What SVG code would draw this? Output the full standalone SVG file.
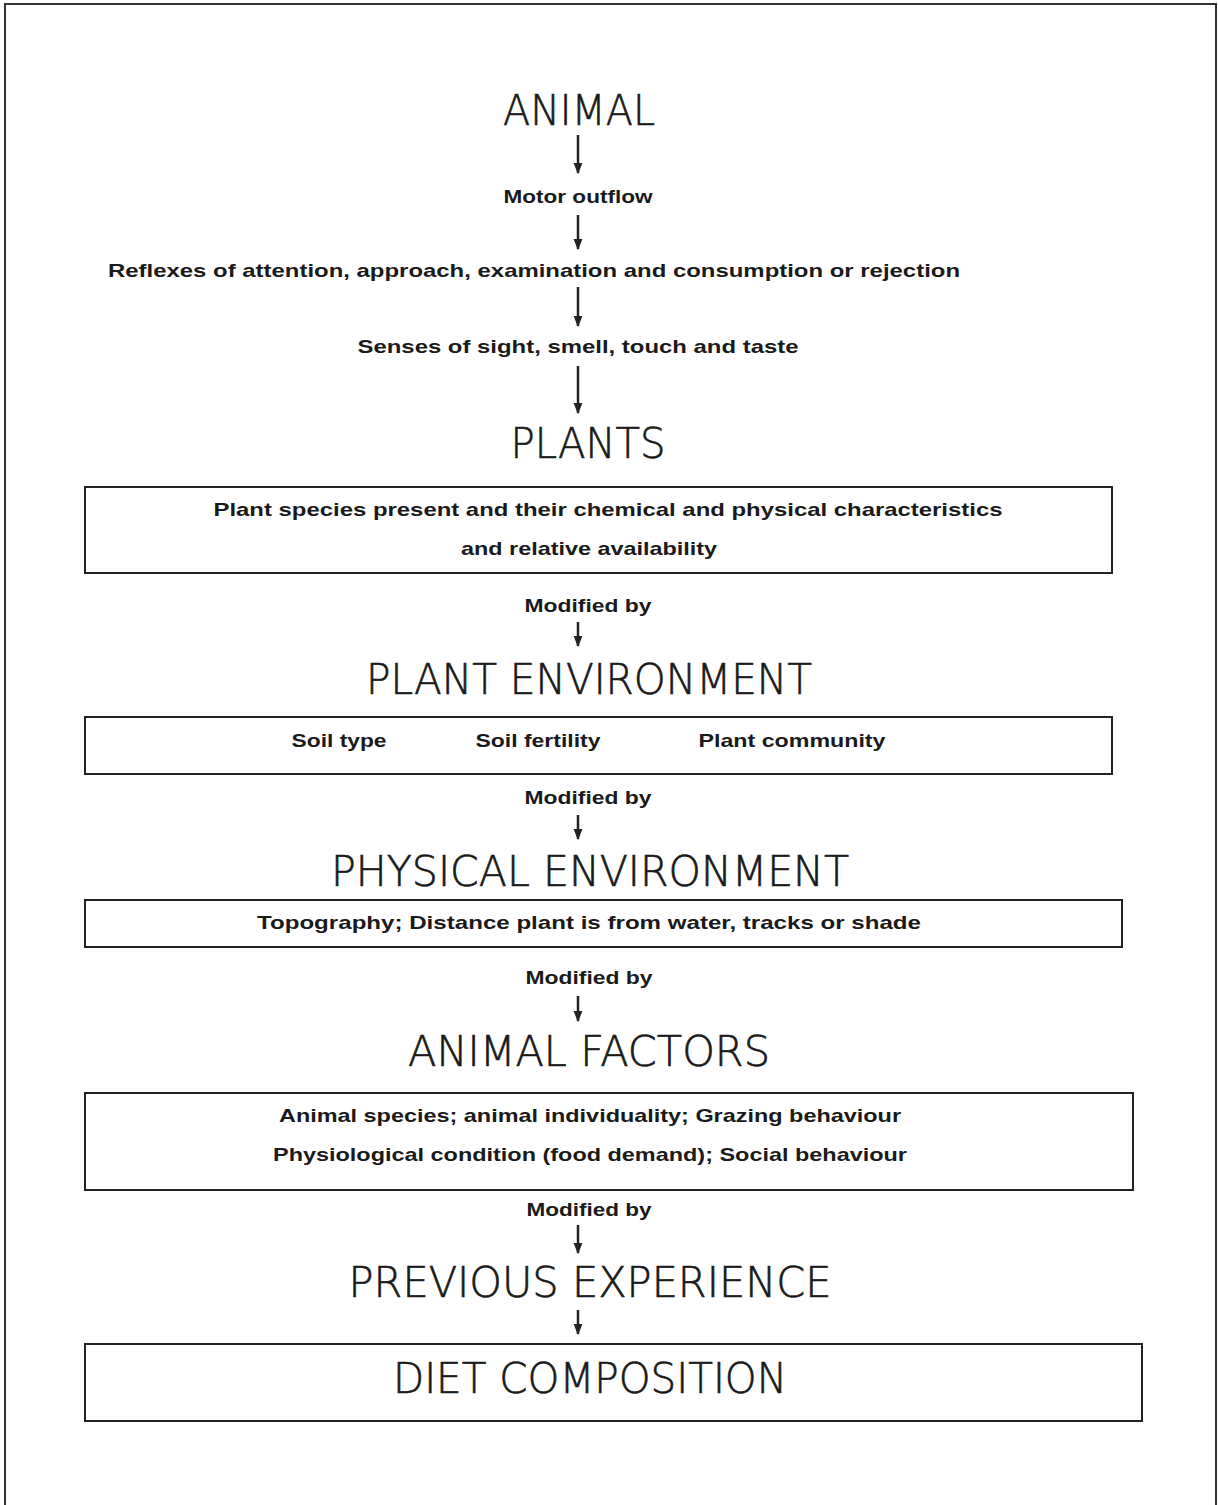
<svg xmlns="http://www.w3.org/2000/svg" width="1218" height="1505" viewBox="0 0 1218 1505">
<defs>
<style>
.h{font-family:"DejaVu Sans","Liberation Sans",sans-serif;font-weight:200;font-size:42px;fill:#1a1a1a;stroke:#1a1a1a;stroke-width:0.6;text-anchor:middle}
.s{font-family:"Liberation Sans",Arial,sans-serif;font-size:19px;font-weight:bold;fill:#1a1a1a;text-anchor:middle}
.box{fill:none;stroke:#222;stroke-width:2}
.c line{stroke:#222;stroke-width:2.5;marker-end:url(#ah)}
</style>
<marker id="ah" viewBox="0 0 10 10" refX="9" refY="5" markerWidth="4.5" markerHeight="4.5" markerUnits="strokeWidth" orient="auto">
<path d="M0,1 L10,5 L0,9 z" fill="#222"/>
</marker>
</defs>
<rect width="1218" height="1505" fill="#fff"/>
<path d="M5,1505 L5,4 L1216,4 L1216,1505" fill="none" stroke="#333" stroke-width="2"/>

<g id="animal"><text class="h" x="579" y="125" textLength="152" lengthAdjust="spacingAndGlyphs">ANIMAL</text></g>
<g id="motor"><text class="s" x="578" y="203" textLength="149" lengthAdjust="spacingAndGlyphs">Motor outflow</text></g>
<g id="reflexes"><text class="s" x="534" y="277" textLength="852" lengthAdjust="spacingAndGlyphs">Reflexes of attention, approach, examination and consumption  or rejection</text></g>
<g id="senses"><text class="s" x="578" y="353" textLength="441" lengthAdjust="spacingAndGlyphs">Senses of sight, smell, touch and taste</text></g>
<g id="plants"><text class="h" x="588" y="458" textLength="155" lengthAdjust="spacingAndGlyphs">PLANTS</text></g>
<g id="plants-box">
<rect class="box" x="85" y="487" width="1027" height="86"/>
<text class="s" x="608" y="516" textLength="789" lengthAdjust="spacingAndGlyphs">Plant species present and their chemical and physical  characteristics</text>
<text class="s" x="589" y="555" textLength="256" lengthAdjust="spacingAndGlyphs">and relative availability</text>
</g>
<g id="mod1"><text class="s" x="588" y="612" textLength="127" lengthAdjust="spacingAndGlyphs">Modified by</text></g>
<g id="plant-env"><text class="h" x="589" y="694" textLength="446" lengthAdjust="spacingAndGlyphs">PLANT ENVIRONMENT</text></g>
<g id="plant-env-box">
<rect class="box" x="85" y="717" width="1027" height="57"/>
<text class="s" x="339" y="747" textLength="95" lengthAdjust="spacingAndGlyphs">Soil type</text>
<text class="s" x="538" y="747" textLength="125" lengthAdjust="spacingAndGlyphs">Soil fertility</text>
<text class="s" x="792" y="747" textLength="187" lengthAdjust="spacingAndGlyphs">Plant community</text>
</g>
<g id="mod2"><text class="s" x="588" y="804" textLength="127" lengthAdjust="spacingAndGlyphs">Modified by</text></g>
<g id="phys-env"><text class="h" x="590" y="886" textLength="518" lengthAdjust="spacingAndGlyphs">PHYSICAL ENVIRONMENT</text></g>
<g id="phys-env-box">
<rect class="box" x="85" y="900" width="1037" height="47"/>
<text class="s" x="589" y="929" textLength="664" lengthAdjust="spacingAndGlyphs">Topography; Distance plant is from water, tracks or shade</text>
</g>
<g id="mod3"><text class="s" x="589" y="984" textLength="127" lengthAdjust="spacingAndGlyphs">Modified by</text></g>
<g id="animal-factors"><text class="h" x="589" y="1066" textLength="362" lengthAdjust="spacingAndGlyphs">ANIMAL FACTORS</text></g>
<g id="animal-factors-box">
<rect class="box" x="85" y="1093" width="1048" height="97"/>
<text class="s" x="590" y="1122" textLength="622" lengthAdjust="spacingAndGlyphs">Animal species; animal individuality; Grazing behaviour</text>
<text class="s" x="590" y="1161" textLength="634" lengthAdjust="spacingAndGlyphs">Physiological condition (food demand); Social behaviour</text>
</g>
<g id="mod4"><text class="s" x="589" y="1216" textLength="125" lengthAdjust="spacingAndGlyphs">Modified by</text></g>
<g id="prev-exp"><text class="h" x="590" y="1297" textLength="483" lengthAdjust="spacingAndGlyphs">PREVIOUS EXPERIENCE</text></g>
<g id="diet">
<rect class="box" x="85" y="1344" width="1057" height="77"/>
<text class="h" x="590" y="1393" textLength="394" lengthAdjust="spacingAndGlyphs">DIET COMPOSITION</text>
</g>

<g id="connectors" class="c">
<line x1="578" y1="135" x2="578" y2="173"/>
<line x1="578" y1="215" x2="578" y2="249"/>
<line x1="578" y1="287" x2="578" y2="326"/>
<line x1="578" y1="366" x2="578" y2="413"/>
<line x1="578" y1="622" x2="578" y2="646"/>
<line x1="578" y1="815" x2="578" y2="839"/>
<line x1="578" y1="996" x2="578" y2="1021"/>
<line x1="578" y1="1225" x2="578" y2="1253"/>
<line x1="578" y1="1310" x2="578" y2="1334"/>
</g>
</svg>
